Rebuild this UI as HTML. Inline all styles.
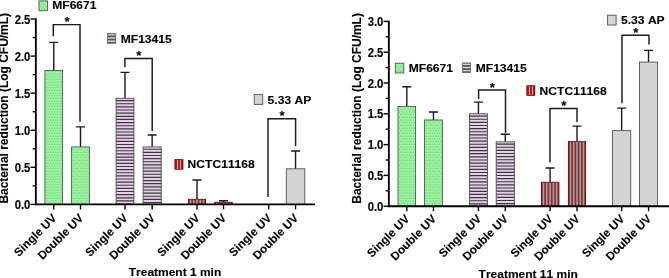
<!DOCTYPE html>
<html><head><meta charset="utf-8"><title>Bacterial reduction</title>
<style>html,body{margin:0;padding:0;background:#fff}body{width:669px;height:278px;overflow:hidden}</style></head>
<body>
<svg width="669" height="278" viewBox="0 0 669 278" style="display:block">
<defs>
<pattern id="pg" width="2.5" height="5.4" patternUnits="userSpaceOnUse"><rect width="2.5" height="5.4" fill="#98f89c"/><rect x="0.2" y="0.6" width="1.3" height="1.1" fill="#80c488"/><rect x="1.45" y="3.3" width="1.3" height="1.1" fill="#80c488"/><rect x="-1.05" y="3.3" width="1.3" height="1.1" fill="#80c488"/></pattern>
</defs>
<rect width="669" height="278" fill="#fff"/>
<path d="M53.75 70.54V42.36M49.25 42.36H58.25" stroke="#1a1a1a" stroke-width="1.4" fill="none"/>
<rect x="44.90" y="70.54" width="17.70" height="133.86" fill="url(#pg)"/>
<rect x="44.90" y="70.54" width="17.70" height="133.86" fill="none" stroke="#485048" stroke-width="0.85"/>
<path d="M80.50 146.93V126.90M76.00 126.90H85.00" stroke="#1a1a1a" stroke-width="1.4" fill="none"/>
<rect x="71.60" y="146.93" width="17.80" height="57.47" fill="url(#pg)"/>
<rect x="71.60" y="146.93" width="17.80" height="57.47" fill="none" stroke="#485048" stroke-width="0.85"/>
<path d="M125.00 98.35V72.40M120.50 72.40H129.50" stroke="#1a1a1a" stroke-width="1.4" fill="none"/>
<rect x="116.10" y="98.35" width="17.80" height="106.05" fill="#efc9f6"/>
<path d="M116.10 100.05h17.80v1.15h-17.80zM116.10 103.19h17.80v1.15h-17.80zM116.10 106.32h17.80v1.15h-17.80zM116.10 109.46h17.80v1.15h-17.80zM116.10 112.59h17.80v1.15h-17.80zM116.10 115.73h17.80v1.15h-17.80zM116.10 118.86h17.80v1.15h-17.80zM116.10 122.00h17.80v1.15h-17.80zM116.10 125.13h17.80v1.15h-17.80zM116.10 128.27h17.80v1.15h-17.80zM116.10 131.40h17.80v1.15h-17.80zM116.10 134.54h17.80v1.15h-17.80zM116.10 137.67h17.80v1.15h-17.80zM116.10 140.81h17.80v1.15h-17.80zM116.10 143.94h17.80v1.15h-17.80zM116.10 147.08h17.80v1.15h-17.80zM116.10 150.21h17.80v1.15h-17.80zM116.10 153.35h17.80v1.15h-17.80zM116.10 156.48h17.80v1.15h-17.80zM116.10 159.62h17.80v1.15h-17.80zM116.10 162.75h17.80v1.15h-17.80zM116.10 165.89h17.80v1.15h-17.80zM116.10 169.02h17.80v1.15h-17.80zM116.10 172.16h17.80v1.15h-17.80zM116.10 175.29h17.80v1.15h-17.80zM116.10 178.43h17.80v1.15h-17.80zM116.10 181.56h17.80v1.15h-17.80zM116.10 184.70h17.80v1.15h-17.80zM116.10 187.83h17.80v1.15h-17.80zM116.10 190.97h17.80v1.15h-17.80zM116.10 194.10h17.80v1.15h-17.80zM116.10 197.24h17.80v1.15h-17.80zM116.10 200.37h17.80v1.15h-17.80zM116.10 203.51h17.80v0.89h-17.80z" fill="#2c4326"/>
<rect x="116.10" y="98.35" width="17.80" height="106.05" fill="none" stroke="#4c4c4c" stroke-width="0.9"/>
<path d="M152.15 146.93V135.06M147.65 135.06H156.65" stroke="#1a1a1a" stroke-width="1.4" fill="none"/>
<rect x="143.10" y="146.93" width="18.10" height="57.47" fill="#efc9f6"/>
<path d="M143.10 148.63h18.10v1.15h-18.10zM143.10 151.76h18.10v1.15h-18.10zM143.10 154.90h18.10v1.15h-18.10zM143.10 158.03h18.10v1.15h-18.10zM143.10 161.17h18.10v1.15h-18.10zM143.10 164.30h18.10v1.15h-18.10zM143.10 167.44h18.10v1.15h-18.10zM143.10 170.57h18.10v1.15h-18.10zM143.10 173.71h18.10v1.15h-18.10zM143.10 176.84h18.10v1.15h-18.10zM143.10 179.98h18.10v1.15h-18.10zM143.10 183.11h18.10v1.15h-18.10zM143.10 186.25h18.10v1.15h-18.10zM143.10 189.38h18.10v1.15h-18.10zM143.10 192.52h18.10v1.15h-18.10zM143.10 195.65h18.10v1.15h-18.10zM143.10 198.79h18.10v1.15h-18.10zM143.10 201.92h18.10v1.15h-18.10z" fill="#2c4326"/>
<rect x="143.10" y="146.93" width="18.10" height="57.47" fill="none" stroke="#4c4c4c" stroke-width="0.9"/>
<path d="M197.00 199.21V179.93M192.50 179.93H201.50" stroke="#1a1a1a" stroke-width="1.4" fill="none"/>
<rect x="188.00" y="199.21" width="18.00" height="5.19" fill="#f80000"/>
<path d="M189.75 199.21h1.51v5.19h-1.51zM193.00 199.21h1.51v5.19h-1.51zM196.25 199.21h1.51v5.19h-1.51zM199.50 199.21h1.51v5.19h-1.51zM202.75 199.21h1.51v5.19h-1.51z" fill="#2cd8e0"/>
<rect x="188.30" y="199.21" width="17.40" height="5.19" fill="none" stroke="#5c0a0a" stroke-width="0.7"/>
<path d="M223.50 202.18V200.69M219.00 200.69H228.00" stroke="#1a1a1a" stroke-width="1.4" fill="none"/>
<rect x="214.50" y="202.18" width="18.00" height="2.22" fill="#f80000"/>
<path d="M216.25 202.18h1.51v2.22h-1.51zM219.50 202.18h1.51v2.22h-1.51zM222.75 202.18h1.51v2.22h-1.51zM226.00 202.18h1.51v2.22h-1.51zM229.25 202.18h1.51v2.22h-1.51z" fill="#2cd8e0"/>
<rect x="214.80" y="202.18" width="17.40" height="2.22" fill="none" stroke="#5c0a0a" stroke-width="0.7"/>
<path d="M295.55 168.80V151.00M291.05 151.00H300.05" stroke="#1a1a1a" stroke-width="1.4" fill="none"/>
<rect x="286.30" y="168.80" width="18.50" height="35.60" fill="#d4d4d4"/>
<rect x="286.30" y="168.80" width="18.50" height="35.60" fill="none" stroke="#505050" stroke-width="0.9"/>
<path d="M35.85 18.30V205.10" stroke="#000" stroke-width="1.85" fill="none"/>
<path d="M35.050000000000004 204.4H315" stroke="#000" stroke-width="1.85" fill="none"/>
<path d="M30.55 204.40H35.85" stroke="#000" stroke-width="1.4"/>
<text transform="translate(30.35 208.90) scale(1 1.06)" text-anchor="end" font-size="11.3" font-family="Liberation Sans, Arial, sans-serif" font-weight="bold" stroke="#000" stroke-width="0.12">0.0</text>
<path d="M30.55 167.32H35.85" stroke="#000" stroke-width="1.4"/>
<text transform="translate(30.35 171.82) scale(1 1.06)" text-anchor="end" font-size="11.3" font-family="Liberation Sans, Arial, sans-serif" font-weight="bold" stroke="#000" stroke-width="0.12">0.5</text>
<path d="M30.55 130.24H35.85" stroke="#000" stroke-width="1.4"/>
<text transform="translate(30.35 134.74) scale(1 1.06)" text-anchor="end" font-size="11.3" font-family="Liberation Sans, Arial, sans-serif" font-weight="bold" stroke="#000" stroke-width="0.12">1.0</text>
<path d="M30.55 93.16H35.85" stroke="#000" stroke-width="1.4"/>
<text transform="translate(30.35 97.66) scale(1 1.06)" text-anchor="end" font-size="11.3" font-family="Liberation Sans, Arial, sans-serif" font-weight="bold" stroke="#000" stroke-width="0.12">1.5</text>
<path d="M30.55 56.08H35.85" stroke="#000" stroke-width="1.4"/>
<text transform="translate(30.35 60.58) scale(1 1.06)" text-anchor="end" font-size="11.3" font-family="Liberation Sans, Arial, sans-serif" font-weight="bold" stroke="#000" stroke-width="0.12">2.0</text>
<path d="M30.55 19.00H35.85" stroke="#000" stroke-width="1.4"/>
<text transform="translate(30.35 23.50) scale(1 1.06)" text-anchor="end" font-size="11.3" font-family="Liberation Sans, Arial, sans-serif" font-weight="bold" stroke="#000" stroke-width="0.12">2.5</text>
<path d="M32.65 185.86H35.85" stroke="#000" stroke-width="1.4"/>
<path d="M32.65 148.78H35.85" stroke="#000" stroke-width="1.4"/>
<path d="M32.65 111.70H35.85" stroke="#000" stroke-width="1.4"/>
<path d="M32.65 74.62H35.85" stroke="#000" stroke-width="1.4"/>
<path d="M32.65 37.54H35.85" stroke="#000" stroke-width="1.4"/>
<path d="M53.75 204.4V209.4" stroke="#000" stroke-width="1.4"/>
<text transform="translate(57.25 218.70) rotate(-45)" text-anchor="end" font-size="11.65" font-family="Liberation Sans, Arial, sans-serif" font-weight="bold" stroke="#000" stroke-width="0.12" style="font-kerning:none">Single UV</text>
<path d="M80.50 204.4V209.4" stroke="#000" stroke-width="1.4"/>
<text transform="translate(84.00 218.70) rotate(-45)" text-anchor="end" font-size="11.65" font-family="Liberation Sans, Arial, sans-serif" font-weight="bold" stroke="#000" stroke-width="0.12" style="font-kerning:none">Double UV</text>
<path d="M125.00 204.4V209.4" stroke="#000" stroke-width="1.4"/>
<text transform="translate(128.50 218.70) rotate(-45)" text-anchor="end" font-size="11.65" font-family="Liberation Sans, Arial, sans-serif" font-weight="bold" stroke="#000" stroke-width="0.12" style="font-kerning:none">Single UV</text>
<path d="M152.15 204.4V209.4" stroke="#000" stroke-width="1.4"/>
<text transform="translate(155.65 218.70) rotate(-45)" text-anchor="end" font-size="11.65" font-family="Liberation Sans, Arial, sans-serif" font-weight="bold" stroke="#000" stroke-width="0.12" style="font-kerning:none">Double UV</text>
<path d="M197.00 204.4V209.4" stroke="#000" stroke-width="1.4"/>
<text transform="translate(200.50 218.70) rotate(-45)" text-anchor="end" font-size="11.65" font-family="Liberation Sans, Arial, sans-serif" font-weight="bold" stroke="#000" stroke-width="0.12" style="font-kerning:none">Single UV</text>
<path d="M223.50 204.4V209.4" stroke="#000" stroke-width="1.4"/>
<text transform="translate(227.00 218.70) rotate(-45)" text-anchor="end" font-size="11.65" font-family="Liberation Sans, Arial, sans-serif" font-weight="bold" stroke="#000" stroke-width="0.12" style="font-kerning:none">Double UV</text>
<path d="M268.70 204.4V209.4" stroke="#000" stroke-width="1.4"/>
<text transform="translate(272.20 218.70) rotate(-45)" text-anchor="end" font-size="11.65" font-family="Liberation Sans, Arial, sans-serif" font-weight="bold" stroke="#000" stroke-width="0.12" style="font-kerning:none">Single UV</text>
<path d="M295.55 204.4V209.4" stroke="#000" stroke-width="1.4"/>
<text transform="translate(299.05 218.70) rotate(-45)" text-anchor="end" font-size="11.65" font-family="Liberation Sans, Arial, sans-serif" font-weight="bold" stroke="#000" stroke-width="0.12" style="font-kerning:none">Double UV</text>
<text transform="translate(8.3 108.3) rotate(-90)" text-anchor="middle" font-size="11.96" font-family="Liberation Sans, Arial, sans-serif" font-weight="bold" stroke="#000" stroke-width="0.12" style="font-kerning:none">Bacterial reduction (Log CFU/mL)</text>
<text transform="translate(175 275.8) scale(1 0.94)" text-anchor="middle" font-size="12" font-family="Liberation Sans, Arial, sans-serif" font-weight="bold" stroke="#000" stroke-width="0.12" style="font-kerning:none">Treatment 1 min</text>
<path d="M53.3 36.3V24.6H80V121.7" stroke="#1a1a1a" stroke-width="1.45" fill="none"/>
<text x="66.95" y="26.3" text-anchor="middle" font-size="13.2" font-family="Liberation Sans, Arial, sans-serif" font-weight="bold" stroke="#000" stroke-width="0.12" style="font-kerning:none">*</text>
<path d="M124.9 67.2V58.5H152.2V131" stroke="#1a1a1a" stroke-width="1.45" fill="none"/>
<text x="138.85" y="60.2" text-anchor="middle" font-size="13.2" font-family="Liberation Sans, Arial, sans-serif" font-weight="bold" stroke="#000" stroke-width="0.12" style="font-kerning:none">*</text>
<path d="M268 197V118.7H295.6V146" stroke="#1a1a1a" stroke-width="1.45" fill="none"/>
<text x="282.10" y="120.4" text-anchor="middle" font-size="13.2" font-family="Liberation Sans, Arial, sans-serif" font-weight="bold" stroke="#000" stroke-width="0.12" style="font-kerning:none">*</text>
<rect x="39.00" y="0.90" width="8.50" height="9.80" fill="url(#pg)"/>
<rect x="39.00" y="0.90" width="8.50" height="9.80" fill="none" stroke="#485048" stroke-width="0.85"/>
<text transform="translate(52.20 9.00) scale(1 0.93)" font-size="12.1" font-family="Liberation Sans, Arial, sans-serif" font-weight="bold" stroke="#000" stroke-width="0.12" style="font-kerning:none">MF6671</text>
<rect x="107.30" y="33.50" width="8.50" height="9.80" fill="#4a5848"/>
<path d="M107.60 34.15h7.90v1.45h-7.90zM107.60 37.32h7.90v1.45h-7.90zM107.60 40.49h7.90v1.45h-7.90z" fill="#f2c4fa"/>
<rect x="107.30" y="33.50" width="8.50" height="9.80" fill="none" stroke="#4a5848" stroke-width="0.5"/>
<text transform="translate(120.70 42.50) scale(1 0.93)" font-size="12.1" font-family="Liberation Sans, Arial, sans-serif" font-weight="bold" stroke="#000" stroke-width="0.12" style="font-kerning:none">MF13415</text>
<rect x="174.70" y="159.50" width="8.50" height="9.80" fill="#f80000"/>
<path d="M177.00 159.50h1.00v9.80h-1.00zM180.00 159.50h1.00v9.80h-1.00z" fill="#22e4ee"/>
<rect x="175.00" y="159.50" width="7.90" height="9.80" fill="none" stroke="#5c0a0a" stroke-width="0.7"/>
<text transform="translate(187.60 168.40) scale(1 0.93)" font-size="12.1" font-family="Liberation Sans, Arial, sans-serif" font-weight="bold" stroke="#000" stroke-width="0.12" style="font-kerning:none">NCTC11168</text>
<rect x="254.20" y="94.60" width="8.50" height="9.80" fill="#d4d4d4"/>
<rect x="254.20" y="94.60" width="8.50" height="9.80" fill="none" stroke="#505050" stroke-width="0.9"/>
<text transform="translate(267.60 103.70) scale(1 0.93)" font-size="12.1" font-family="Liberation Sans, Arial, sans-serif" font-weight="bold" stroke="#000" stroke-width="0.12" style="font-kerning:none">5.33 AP</text>
<path d="M406.80 106.41V86.70M402.30 86.70H411.30" stroke="#1a1a1a" stroke-width="1.4" fill="none"/>
<rect x="398.00" y="106.41" width="17.60" height="99.79" fill="url(#pg)"/>
<rect x="398.00" y="106.41" width="17.60" height="99.79" fill="none" stroke="#485048" stroke-width="0.85"/>
<path d="M433.45 119.96V111.95M428.95 111.95H437.95" stroke="#1a1a1a" stroke-width="1.4" fill="none"/>
<rect x="424.50" y="119.96" width="17.90" height="86.24" fill="url(#pg)"/>
<rect x="424.50" y="119.96" width="17.90" height="86.24" fill="none" stroke="#485048" stroke-width="0.85"/>
<path d="M478.45 113.80V102.10M473.95 102.10H482.95" stroke="#1a1a1a" stroke-width="1.4" fill="none"/>
<rect x="469.50" y="113.80" width="17.90" height="92.40" fill="#efc9f6"/>
<path d="M469.50 115.50h17.90v1.15h-17.90zM469.50 118.63h17.90v1.15h-17.90zM469.50 121.77h17.90v1.15h-17.90zM469.50 124.91h17.90v1.15h-17.90zM469.50 128.04h17.90v1.15h-17.90zM469.50 131.17h17.90v1.15h-17.90zM469.50 134.31h17.90v1.15h-17.90zM469.50 137.44h17.90v1.15h-17.90zM469.50 140.58h17.90v1.15h-17.90zM469.50 143.71h17.90v1.15h-17.90zM469.50 146.85h17.90v1.15h-17.90zM469.50 149.98h17.90v1.15h-17.90zM469.50 153.12h17.90v1.15h-17.90zM469.50 156.25h17.90v1.15h-17.90zM469.50 159.39h17.90v1.15h-17.90zM469.50 162.52h17.90v1.15h-17.90zM469.50 165.66h17.90v1.15h-17.90zM469.50 168.79h17.90v1.15h-17.90zM469.50 171.93h17.90v1.15h-17.90zM469.50 175.06h17.90v1.15h-17.90zM469.50 178.20h17.90v1.15h-17.90zM469.50 181.33h17.90v1.15h-17.90zM469.50 184.47h17.90v1.15h-17.90zM469.50 187.60h17.90v1.15h-17.90zM469.50 190.74h17.90v1.15h-17.90zM469.50 193.87h17.90v1.15h-17.90zM469.50 197.01h17.90v1.15h-17.90zM469.50 200.14h17.90v1.15h-17.90zM469.50 203.28h17.90v1.15h-17.90z" fill="#2c4326"/>
<rect x="469.50" y="113.80" width="17.90" height="92.40" fill="none" stroke="#4c4c4c" stroke-width="0.9"/>
<path d="M505.30 141.83V134.25M500.80 134.25H509.80" stroke="#1a1a1a" stroke-width="1.4" fill="none"/>
<rect x="496.20" y="141.83" width="18.20" height="64.37" fill="#efc9f6"/>
<path d="M496.20 143.53h18.20v1.15h-18.20zM496.20 146.66h18.20v1.15h-18.20zM496.20 149.80h18.20v1.15h-18.20zM496.20 152.93h18.20v1.15h-18.20zM496.20 156.07h18.20v1.15h-18.20zM496.20 159.20h18.20v1.15h-18.20zM496.20 162.34h18.20v1.15h-18.20zM496.20 165.47h18.20v1.15h-18.20zM496.20 168.61h18.20v1.15h-18.20zM496.20 171.74h18.20v1.15h-18.20zM496.20 174.88h18.20v1.15h-18.20zM496.20 178.01h18.20v1.15h-18.20zM496.20 181.15h18.20v1.15h-18.20zM496.20 184.28h18.20v1.15h-18.20zM496.20 187.42h18.20v1.15h-18.20zM496.20 190.55h18.20v1.15h-18.20zM496.20 193.69h18.20v1.15h-18.20zM496.20 196.82h18.20v1.15h-18.20zM496.20 199.96h18.20v1.15h-18.20zM496.20 203.09h18.20v1.15h-18.20z" fill="#2c4326"/>
<rect x="496.20" y="141.83" width="18.20" height="64.37" fill="none" stroke="#4c4c4c" stroke-width="0.9"/>
<path d="M550.10 182.18V168.01M545.60 168.01H554.60" stroke="#1a1a1a" stroke-width="1.4" fill="none"/>
<rect x="541.00" y="182.18" width="18.20" height="24.02" fill="#f80000"/>
<path d="M542.76 182.18h1.52v24.02h-1.52zM546.05 182.18h1.52v24.02h-1.52zM549.34 182.18h1.52v24.02h-1.52zM552.63 182.18h1.52v24.02h-1.52zM555.91 182.18h1.52v24.02h-1.52z" fill="#2cd8e0"/>
<rect x="541.30" y="182.18" width="17.60" height="24.02" fill="none" stroke="#5c0a0a" stroke-width="0.7"/>
<path d="M577.00 141.52V126.12M572.50 126.12H581.50" stroke="#1a1a1a" stroke-width="1.4" fill="none"/>
<rect x="568.00" y="141.52" width="18.00" height="64.68" fill="#f80000"/>
<path d="M569.75 141.52h1.51v64.68h-1.51zM573.00 141.52h1.51v64.68h-1.51zM576.25 141.52h1.51v64.68h-1.51zM579.50 141.52h1.51v64.68h-1.51zM582.75 141.52h1.51v64.68h-1.51z" fill="#2cd8e0"/>
<rect x="568.30" y="141.52" width="17.40" height="64.68" fill="none" stroke="#5c0a0a" stroke-width="0.7"/>
<path d="M621.65 130.62V108.13M617.15 108.13H626.15" stroke="#1a1a1a" stroke-width="1.4" fill="none"/>
<rect x="612.60" y="130.62" width="18.10" height="75.58" fill="#d4d4d4"/>
<rect x="612.60" y="130.62" width="18.10" height="75.58" fill="none" stroke="#505050" stroke-width="0.9"/>
<path d="M648.55 62.06V50.35M644.05 50.35H653.05" stroke="#1a1a1a" stroke-width="1.4" fill="none"/>
<rect x="639.50" y="62.06" width="18.10" height="144.14" fill="#d4d4d4"/>
<rect x="639.50" y="62.06" width="18.10" height="144.14" fill="none" stroke="#505050" stroke-width="0.9"/>
<path d="M388.85 20.70V206.90" stroke="#000" stroke-width="1.85" fill="none"/>
<path d="M388.05 206.2H669" stroke="#000" stroke-width="1.85" fill="none"/>
<path d="M383.55 206.20H388.85" stroke="#000" stroke-width="1.4"/>
<text transform="translate(383.35 210.70) scale(1 1.06)" text-anchor="end" font-size="11.3" font-family="Liberation Sans, Arial, sans-serif" font-weight="bold" stroke="#000" stroke-width="0.12">0.0</text>
<path d="M383.55 175.40H388.85" stroke="#000" stroke-width="1.4"/>
<text transform="translate(383.35 179.90) scale(1 1.06)" text-anchor="end" font-size="11.3" font-family="Liberation Sans, Arial, sans-serif" font-weight="bold" stroke="#000" stroke-width="0.12">0.5</text>
<path d="M383.55 144.60H388.85" stroke="#000" stroke-width="1.4"/>
<text transform="translate(383.35 149.10) scale(1 1.06)" text-anchor="end" font-size="11.3" font-family="Liberation Sans, Arial, sans-serif" font-weight="bold" stroke="#000" stroke-width="0.12">1.0</text>
<path d="M383.55 113.80H388.85" stroke="#000" stroke-width="1.4"/>
<text transform="translate(383.35 118.30) scale(1 1.06)" text-anchor="end" font-size="11.3" font-family="Liberation Sans, Arial, sans-serif" font-weight="bold" stroke="#000" stroke-width="0.12">1.5</text>
<path d="M383.55 83.00H388.85" stroke="#000" stroke-width="1.4"/>
<text transform="translate(383.35 87.50) scale(1 1.06)" text-anchor="end" font-size="11.3" font-family="Liberation Sans, Arial, sans-serif" font-weight="bold" stroke="#000" stroke-width="0.12">2.0</text>
<path d="M383.55 52.20H388.85" stroke="#000" stroke-width="1.4"/>
<text transform="translate(383.35 56.70) scale(1 1.06)" text-anchor="end" font-size="11.3" font-family="Liberation Sans, Arial, sans-serif" font-weight="bold" stroke="#000" stroke-width="0.12">2.5</text>
<path d="M383.55 21.40H388.85" stroke="#000" stroke-width="1.4"/>
<text transform="translate(383.35 25.90) scale(1 1.06)" text-anchor="end" font-size="11.3" font-family="Liberation Sans, Arial, sans-serif" font-weight="bold" stroke="#000" stroke-width="0.12">3.0</text>
<path d="M385.65000000000003 190.80H388.85" stroke="#000" stroke-width="1.4"/>
<path d="M385.65000000000003 160.00H388.85" stroke="#000" stroke-width="1.4"/>
<path d="M385.65000000000003 129.20H388.85" stroke="#000" stroke-width="1.4"/>
<path d="M385.65000000000003 98.40H388.85" stroke="#000" stroke-width="1.4"/>
<path d="M385.65000000000003 67.60H388.85" stroke="#000" stroke-width="1.4"/>
<path d="M385.65000000000003 36.80H388.85" stroke="#000" stroke-width="1.4"/>
<path d="M406.80 206.2V211.2" stroke="#000" stroke-width="1.4"/>
<text transform="translate(410.30 219.60) rotate(-45)" text-anchor="end" font-size="11.65" font-family="Liberation Sans, Arial, sans-serif" font-weight="bold" stroke="#000" stroke-width="0.12" style="font-kerning:none">Single UV</text>
<path d="M433.45 206.2V211.2" stroke="#000" stroke-width="1.4"/>
<text transform="translate(436.95 219.60) rotate(-45)" text-anchor="end" font-size="11.65" font-family="Liberation Sans, Arial, sans-serif" font-weight="bold" stroke="#000" stroke-width="0.12" style="font-kerning:none">Double UV</text>
<path d="M478.45 206.2V211.2" stroke="#000" stroke-width="1.4"/>
<text transform="translate(481.95 219.60) rotate(-45)" text-anchor="end" font-size="11.65" font-family="Liberation Sans, Arial, sans-serif" font-weight="bold" stroke="#000" stroke-width="0.12" style="font-kerning:none">Single UV</text>
<path d="M505.30 206.2V211.2" stroke="#000" stroke-width="1.4"/>
<text transform="translate(508.80 219.60) rotate(-45)" text-anchor="end" font-size="11.65" font-family="Liberation Sans, Arial, sans-serif" font-weight="bold" stroke="#000" stroke-width="0.12" style="font-kerning:none">Double UV</text>
<path d="M550.10 206.2V211.2" stroke="#000" stroke-width="1.4"/>
<text transform="translate(553.60 219.60) rotate(-45)" text-anchor="end" font-size="11.65" font-family="Liberation Sans, Arial, sans-serif" font-weight="bold" stroke="#000" stroke-width="0.12" style="font-kerning:none">Single UV</text>
<path d="M577.00 206.2V211.2" stroke="#000" stroke-width="1.4"/>
<text transform="translate(580.50 219.60) rotate(-45)" text-anchor="end" font-size="11.65" font-family="Liberation Sans, Arial, sans-serif" font-weight="bold" stroke="#000" stroke-width="0.12" style="font-kerning:none">Double UV</text>
<path d="M621.65 206.2V211.2" stroke="#000" stroke-width="1.4"/>
<text transform="translate(625.15 219.60) rotate(-45)" text-anchor="end" font-size="11.65" font-family="Liberation Sans, Arial, sans-serif" font-weight="bold" stroke="#000" stroke-width="0.12" style="font-kerning:none">Single UV</text>
<path d="M648.55 206.2V211.2" stroke="#000" stroke-width="1.4"/>
<text transform="translate(652.05 219.60) rotate(-45)" text-anchor="end" font-size="11.65" font-family="Liberation Sans, Arial, sans-serif" font-weight="bold" stroke="#000" stroke-width="0.12" style="font-kerning:none">Double UV</text>
<text transform="translate(360.8 108.4) rotate(-90)" text-anchor="middle" font-size="11.96" font-family="Liberation Sans, Arial, sans-serif" font-weight="bold" stroke="#000" stroke-width="0.12" style="font-kerning:none">Bacterial reduction (Log CFU/mL)</text>
<text transform="translate(528.2 277.5) scale(1 0.94)" text-anchor="middle" font-size="12" font-family="Liberation Sans, Arial, sans-serif" font-weight="bold" stroke="#000" stroke-width="0.12" style="font-kerning:none">Treatment 11 min</text>
<path d="M478.6 99V90H505.5V133" stroke="#1a1a1a" stroke-width="1.45" fill="none"/>
<text x="492.35" y="91.7" text-anchor="middle" font-size="13.2" font-family="Liberation Sans, Arial, sans-serif" font-weight="bold" stroke="#000" stroke-width="0.12" style="font-kerning:none">*</text>
<path d="M550 162.5V108.5H577V122" stroke="#1a1a1a" stroke-width="1.45" fill="none"/>
<text x="563.80" y="110.2" text-anchor="middle" font-size="13.2" font-family="Liberation Sans, Arial, sans-serif" font-weight="bold" stroke="#000" stroke-width="0.12" style="font-kerning:none">*</text>
<path d="M622 103.3V35.2H649V44.5" stroke="#1a1a1a" stroke-width="1.45" fill="none"/>
<text x="635.80" y="36.900000000000006" text-anchor="middle" font-size="13.2" font-family="Liberation Sans, Arial, sans-serif" font-weight="bold" stroke="#000" stroke-width="0.12" style="font-kerning:none">*</text>
<rect x="395.30" y="63.20" width="8.50" height="9.80" fill="url(#pg)"/>
<rect x="395.30" y="63.20" width="8.50" height="9.80" fill="none" stroke="#485048" stroke-width="0.85"/>
<text transform="translate(408.70 71.80) scale(1 0.93)" font-size="12.1" font-family="Liberation Sans, Arial, sans-serif" font-weight="bold" stroke="#000" stroke-width="0.12" style="font-kerning:none">MF6671</text>
<rect x="462.30" y="62.90" width="8.50" height="9.80" fill="#4a5848"/>
<path d="M462.60 63.55h7.90v1.45h-7.90zM462.60 66.72h7.90v1.45h-7.90zM462.60 69.89h7.90v1.45h-7.90z" fill="#f2c4fa"/>
<rect x="462.30" y="62.90" width="8.50" height="9.80" fill="none" stroke="#4a5848" stroke-width="0.5"/>
<text transform="translate(475.70 71.50) scale(1 0.93)" font-size="12.1" font-family="Liberation Sans, Arial, sans-serif" font-weight="bold" stroke="#000" stroke-width="0.12" style="font-kerning:none">MF13415</text>
<rect x="526.60" y="85.70" width="8.50" height="9.80" fill="#f80000"/>
<path d="M529.00 85.70h1.00v9.80h-1.00zM532.00 85.70h1.00v9.80h-1.00z" fill="#22e4ee"/>
<rect x="526.90" y="85.70" width="7.90" height="9.80" fill="none" stroke="#5c0a0a" stroke-width="0.7"/>
<text transform="translate(539.60 94.60) scale(1 0.93)" font-size="12.1" font-family="Liberation Sans, Arial, sans-serif" font-weight="bold" stroke="#000" stroke-width="0.12" style="font-kerning:none">NCTC11168</text>
<rect x="607.60" y="15.20" width="8.50" height="9.80" fill="#d4d4d4"/>
<rect x="607.60" y="15.20" width="8.50" height="9.80" fill="none" stroke="#505050" stroke-width="0.9"/>
<text transform="translate(621.00 24.20) scale(1 0.93)" font-size="12.1" font-family="Liberation Sans, Arial, sans-serif" font-weight="bold" stroke="#000" stroke-width="0.12" style="font-kerning:none">5.33 AP</text>
</svg>
</body></html>
